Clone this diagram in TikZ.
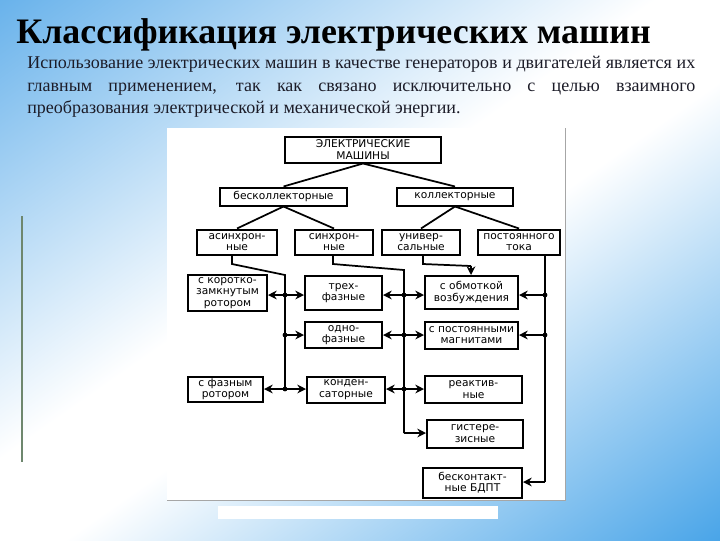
\documentclass[tikz,border=0pt]{standalone}
\usepackage{fontspec}
\setmainfont{Liberation Serif}
\newfontfamily\boxfont{DejaVu Sans}
\usetikzlibrary{arrows.meta}
\definecolor{bgblueA}{RGB}{104,178,235}
\definecolor{bgblueB}{RGB}{72,164,232}
\definecolor{txtcol}{RGB}{28,28,40}
\definecolor{leftline}{RGB}{110,135,110}
\pgfdeclarehorizontalshading{bgshade}{100bp}{color(0bp)=(bgblueA); color(25bp)=(bgblueA); color(47bp)=(white); color(53bp)=(white); color(75bp)=(bgblueB); color(100bp)=(bgblueB)}
\begin{document}
\begin{tikzpicture}[x=0.75pt,y=-0.75pt,
  bx/.style 2 args={draw=black, line width=1.5pt, fill=white,
    minimum width=#1*0.75pt, minimum height=#2*0.75pt, inner sep=0pt,
    align=center, font=\boxfont\fontsize{8}{8.6}\selectfont},
  ln/.style={draw=black, line width=1.3pt},
  arr/.style={ln, -{Stealth[length=6.5pt,width=6.5pt]}},
  body/.style={font=\fontsize{13.5}{15}\selectfont, text=txtcol, inner sep=0pt}
]
\useasboundingbox (0,0) rectangle (720,540);
% background
\begin{scope}
\clip (0,0) rectangle (720,540);
\begin{scope}[transform canvas={rotate around={-55:(360,270)}}]
\shade[shading=bgshade] (-70,-190) rectangle (790,730);
\end{scope}
\end{scope}
% left thin line
\draw[leftline, line width=0.8pt] (22,216) -- (22,462);
% diagram panel
\fill[white] (167,128) rectangle (565,500);
\draw[black!35, line width=0.6pt] (167,500) -- (565,500) -- (565,128);
\fill[white] (218,506) rectangle (498,519);
% title and text
\node[anchor=base west, font=\bfseries\fontsize{26.9}{30}\selectfont, inner sep=0pt] (title) at (16,43) {Классификация электрических машин};
\node[anchor=base west, body] (t1) at (27,68) {\makebox[501pt][s]{Использование электрических машин в качестве генераторов и двигателей является их}};
\node[anchor=base west, body] (t2) at (27,91) {\makebox[501pt][s]{главным применением, так как связано исключительно с целью взаимного}};
\node[anchor=base west, body] (t3) at (27,113) {преобразования электрической и механической энергии.};
% boxes
\node[bx={156}{26}] (em) at (363,149.5) {ЭЛЕКТРИЧЕСКИЕ\\МАШИНЫ};
\node[bx={127}{18}] (bk) at (283.5,196.5) {бесколлекторные};
\node[bx={116}{18}] (kl) at (455,196.5) {коллекторные};
\node[bx={80}{25}] (as) at (237,242) {асинхрон-\\ные};
\node[bx={78}{25}] (sn) at (334,242) {синхрон-\\ные};
\node[bx={78}{25}] (un) at (421,242) {универ-\\сальные};
\node[bx={82}{25}] (pt) at (519,242) {постоянного\\тока};
\node[bx={79}{36}] (kz) at (227.5,293) {с коротко-\\замкнутым\\ротором};
\node[bx={77}{34}] (tf) at (343.5,293) {трех-\\фазные};
\node[bx={93}{33}] (ob) at (471.5,292.5) {с обмоткой\\возбуждения};
\node[bx={77}{26}] (of) at (343.5,335) {одно-\\фазные};
\node[bx={93}{27}] (pm) at (471.5,335) {с постоянными\\магнитами};
\node[bx={75}{25}] (fr) at (225.5,389) {с фазным\\ротором};
\node[bx={78}{26}] (kd) at (346,389.5) {конден-\\саторные};
\node[bx={97}{27}] (rk) at (473.5,389.5) {реактив-\\ные};
\node[bx={96}{28}] (gs) at (475,433.5) {гистере-\\зисные};
\node[bx={99}{30}] (bd) at (472.5,482.5) {бесконтакт-\\ные БДПТ};
% tree connectors
\draw[ln] (em.south) -- (bk.north);
\draw[ln] (em.south) -- (kl.north);
\draw[ln] (bk.south) -- (as.north);
\draw[ln] (bk.south) -- (sn.north);
\draw[ln] (kl.south) -- (un.north);
\draw[ln] (kl.south) -- (pt.north);
% coordinates
\coordinate (a1) at (232,264);
\coordinate (a2) at (285,275);
\coordinate (L1) at (285,295);
\coordinate (L2) at (285,335);
\coordinate (L3) at (285,389);
\coordinate (s1) at (333,264);
\coordinate (s2) at (404,270);
\coordinate (M1) at (404,295);
\coordinate (M2) at (404,335);
\coordinate (M3) at (404,389);
\coordinate (M4) at (404,433);
\coordinate (u1) at (423,264);
\coordinate (u2) at (471,266);
\coordinate (R1) at (545,295);
\coordinate (R2) at (545,335);
\coordinate (R5) at (545,482);
% buses
\draw[ln] (as.south -| a1) -- (a1) -- (a2) -- (L3);
\draw[ln] (sn.south -| s1) -- (s1) -- (s2) -- (M4);
\draw[ln] (un.south -| u1) -- (u1) -- (u2);
\draw[arr] (u2) -- (u2 |- ob.north);
\draw[ln] (pt.south -| R1) -- (R5);
% arrows
\draw[arr] (L1) -- (L1 -| kz.east);
\draw[arr] (L1) -- (L1 -| tf.west);
\draw[arr] (L2) -- (L2 -| of.west);
\draw[arr] (L3) -- (L3 -| fr.east);
\draw[arr] (L3) -- (L3 -| kd.west);
\draw[arr] (M1) -- (M1 -| tf.east);
\draw[arr] (M1) -- (M1 -| ob.west);
\draw[arr] (M2) -- (M2 -| of.east);
\draw[arr] (M2) -- (M2 -| pm.west);
\draw[arr] (M3) -- (M3 -| kd.east);
\draw[arr] (M3) -- (M3 -| rk.west);
\draw[arr] (M4) -- (M4 -| gs.west);
\draw[arr] (R1) -- (R1 -| ob.east);
\draw[arr] (R2) -- (R2 -| pm.east);
\draw[arr] (R5) -- (R5 -| bd.east);
% dots
\foreach \p in {L1,L2,L3,M1,M2,M3,R1,R2}
  \fill (\p) circle[radius=1.8pt];
\end{tikzpicture}
\end{document}
